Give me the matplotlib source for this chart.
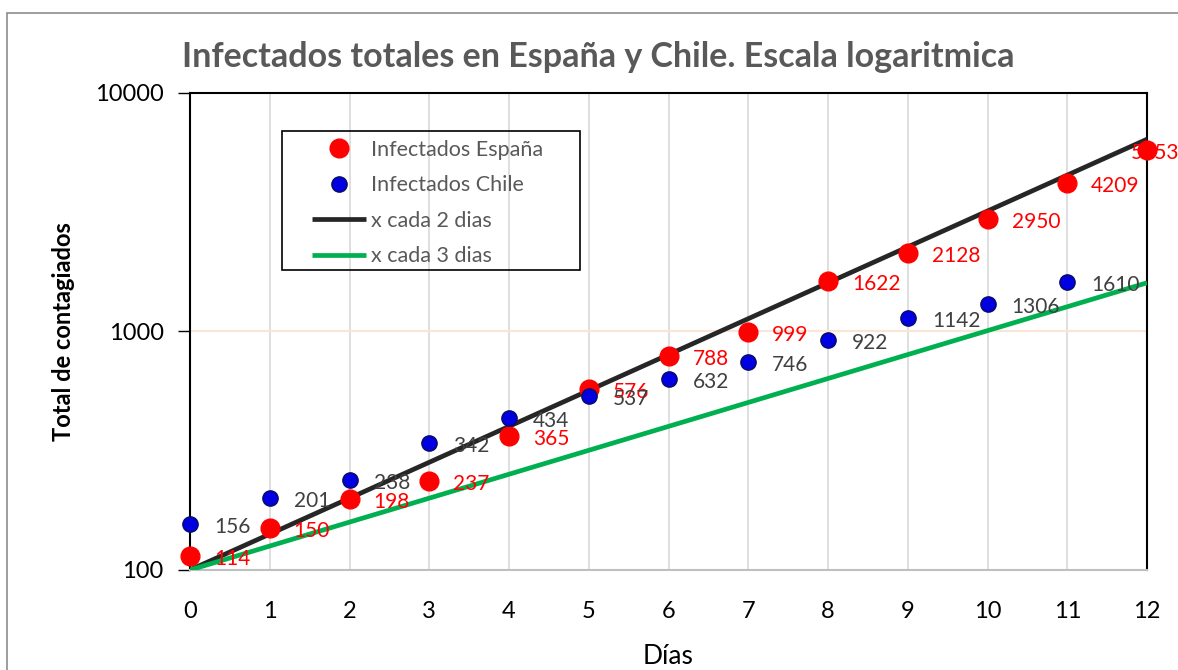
import matplotlib.pyplot as plt
from matplotlib.patches import Rectangle

plt.rcParams['font.family'] = ['Lato', 'DejaVu Sans']

# datos
dias = list(range(13))
espana = [114, 150, 198, 237, 365, 576, 788, 999, 1622, 2128, 2950, 4209, 5753]
chile = [156, 201, 238, 342, 434, 537, 632, 746, 922, 1142, 1306, 1610]
# rectas de referencia (extremos)
ref_x = [0, 12]
ref_2dias = [100, 6400]
ref_3dias = [100, 1600]

fig = plt.figure(figsize=(11.78, 6.7), dpi=100)
ax = fig.add_axes([0.1613, 0.1493, 0.8124, 0.7119])

# marco exterior del grafico
fig.patches.append(Rectangle((7 / 1178, -0.1), 1.2, 1 - 13 / 670 + 0.1, transform=fig.transFigure,
                             fill=False, edgecolor='#8c8c8c', linewidth=1.2))

ax.plot(ref_x, ref_2dias, color='#262626', lw=3.4, label='x cada 2 dias', zorder=3,
        solid_capstyle='butt')
ax.plot(ref_x, ref_3dias, color='#00B050', lw=3.4, label='x cada 3 dias', zorder=3,
        solid_capstyle='butt')
ax.plot(dias, espana, 'o', color='#FF0000', ms=13.5, mec='#FF0000', label='Infectados España',
        zorder=5, clip_on=False)
ax.plot(dias[:len(chile)], chile, 'o', color='#0000E0', ms=11, mec='#0A0A60', mew=1,
        label='Infectados Chile', zorder=6, clip_on=False)

# etiquetas de datos
for x, v in zip(dias, espana):
    dx = 24 if x < 12 else -16
    ax.annotate(str(v), (x, v), xytext=(dx, -3), textcoords='offset pixels', va='center',
                ha='left', color='#FF0000', fontsize=15, zorder=4 if x == 12 else 7,
                annotation_clip=False)
for x, v in zip(dias, chile):
    ax.annotate(str(v), (x, v), xytext=(24, -3), textcoords='offset pixels', va='center',
                ha='left', color='#404040', fontsize=15, zorder=7, annotation_clip=False)

ax.set_yscale('log')
ax.set_ylim(100, 10000)
ax.set_xlim(0, 12)
ax.set_xticks(dias)
ax.set_yticks([100, 1000, 10000])
ax.set_yticklabels(['100', '1000', '10000'])
ax.minorticks_off()
ax.tick_params(axis='x', length=0, pad=22, labelsize=17)
ax.tick_params(axis='y', length=9, width=1, labelsize=17, pad=10)

# cuadricula
for x in dias[1:-1]:
    ax.axvline(x, color='#d9d9d9', lw=1.2, zorder=1)
ax.axhline(1000, color='#fbe5d6', lw=1.5, zorder=1)

for s in ['top', 'left', 'right']:
    ax.spines[s].set_color('black')
    ax.spines[s].set_linewidth(1.5)
ax.spines['bottom'].set_color('#bfbfbf')
ax.spines['bottom'].set_linewidth(1.5)

ax.set_xlabel('Días', fontsize=19, labelpad=16)
ax.set_ylabel('Total de contagiados', fontsize=17, fontweight='bold', labelpad=14)
fig.text(0.508, 0.915, 'Infectados totales en España y Chile. Escala logaritmica', ha='center',
         va='center', fontsize=24.5, fontweight='bold', color='#595959')

# leyenda con marco propio
ax.add_patch(Rectangle((0.0961, 0.629), 0.3114, 0.291, transform=ax.transAxes, fill=False,
                       edgecolor='black', lw=1.2, zorder=8))
handles, labels = ax.get_legend_handles_labels()
order = [2, 3, 0, 1]
leg = ax.legend([handles[i] for i in order], [labels[i] for i in order],
                loc='upper left', bbox_to_anchor=(0.1275, 0.902), fontsize=15.5, frameon=False,
                handlelength=2.5, labelspacing=0.72, borderpad=0, borderaxespad=0,
                handletextpad=0.25)
leg.set_zorder(9)
for t in leg.get_texts():
    t.set_color('#595959')

fig.savefig('out.png', dpi=100)
